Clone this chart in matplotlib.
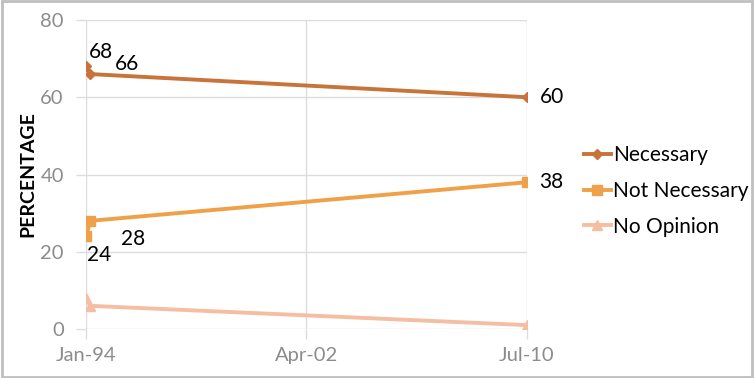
import datetime as dt
import matplotlib
matplotlib.use("Agg")
from matplotlib import pyplot as plt
from matplotlib.patches import Rectangle

plt.rcParams['font.family'] = ['Lato', 'DejaVu Sans']

# data
dates = [dt.date(1994, 1, 1), dt.date(1994, 3, 1), dt.date(2010, 7, 1)]
necessary = [68, 66, 60]
not_necessary = [24, 28, 38]
no_opinion = [8, 6, 1]
tick_dates = [dt.date(1994, 1, 1), dt.date(2002, 4, 1), dt.date(2010, 7, 1)]
tick_labels = ["Jan-94", "Apr-02", "Jul-10"]

fig = plt.figure(figsize=(7.54, 3.78), dpi=100)
ax = fig.add_axes([86 / 754, 1 - 329 / 378, (527 - 86) / 754, (329 - 20) / 378])

grid_c = "#DCDCDC"
ax.plot(dates, necessary, color="#C8733A", lw=2.8, marker="D", ms=5.5, label="Necessary", zorder=3)
ax.plot(dates, not_necessary, color="#F0A048", lw=2.8, marker="s", ms=7, label="Not Necessary", zorder=3)
ax.plot(dates, no_opinion, color="#F5BEA2", lw=2.8, marker="^", ms=7, label="No Opinion", zorder=3)

ax.set_xlim(tick_dates[0], tick_dates[-1])
ax.set_ylim(0, 80)
ax.set_yticks([0, 20, 40, 60, 80])
ax.set_xticks(tick_dates)
ax.set_xticklabels(tick_labels)
ax.grid(True, color=grid_c, lw=1)
ax.set_axisbelow(True)
for s in ax.spines.values():
    s.set_visible(False)
ax.tick_params(axis="both", colors=grid_c, labelcolor="#8C8C8C", labelsize=14.5, length=7, width=1)
ax.tick_params(axis="x", pad=6)
ax.tick_params(axis="y", pad=9)

ax.set_ylabel("PERCENTAGE", fontsize=14, fontweight="bold", labelpad=3)

lbl = dict(fontsize=15, color="black", textcoords="offset points")
ax.annotate("68", (dates[0], necessary[0]), xytext=(2, 3), ha="left", va="bottom", **lbl)
ax.annotate("66", (dates[1], necessary[1]), xytext=(18, 0), ha="left", va="bottom", **lbl)
ax.annotate("60", (dates[2], necessary[2]), xytext=(9, 0), ha="left", va="center", **lbl)
ax.annotate("24", (dates[0], not_necessary[0]), xytext=(1, -6), ha="left", va="top", **lbl)
ax.annotate("28", (dates[1], not_necessary[1]), xytext=(22, -6), ha="left", va="top", **lbl)
ax.annotate("38", (dates[2], not_necessary[2]), xytext=(9, 0), ha="left", va="center", **lbl)

ax.legend(loc="center left", bbox_to_anchor=(1.11, 0.447), frameon=False, fontsize=15,
          handlelength=1.3, handletextpad=0.1, labelspacing=0.75, borderaxespad=0)

fig.patches.append(Rectangle((0.002, 0.003), 0.996, 0.994, transform=fig.transFigure,
                             fill=False, edgecolor="#BFBFBF", lw=2))

fig.savefig("out.png", dpi=100)
